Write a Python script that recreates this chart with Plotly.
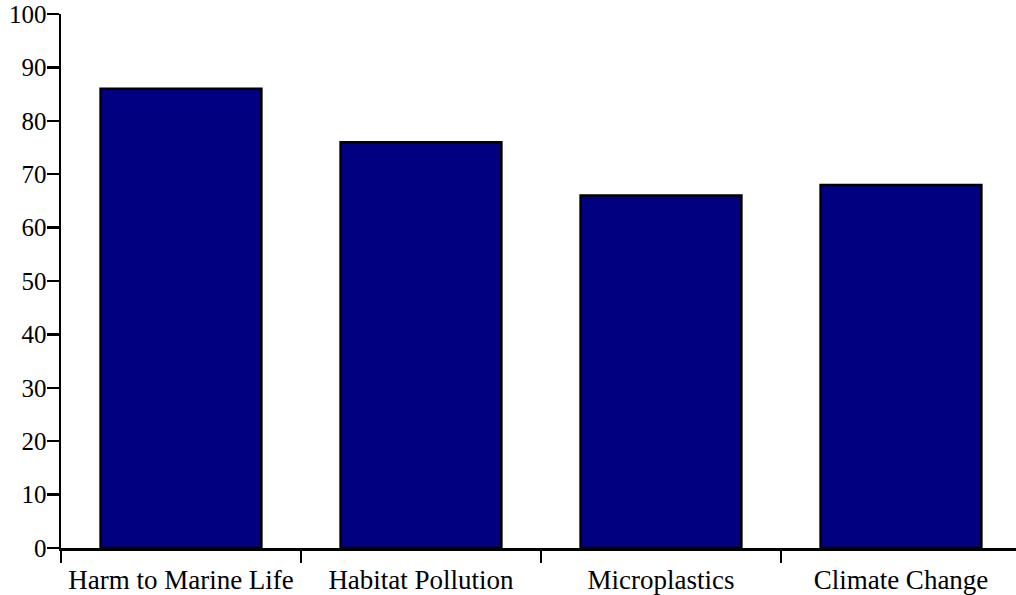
import plotly.graph_objects as go

categories = ["Harm to Marine Life", "Habitat Pollution", "Microplastics", "Climate Change"]
values = [86, 76, 66, 68]
y_ticks = list(range(0, 101, 10))

fig = go.Figure(go.Bar(
    x=categories, y=values, width=0.67,
    marker=dict(color="#000080", line=dict(color="black", width=2.5)),
    hoverinfo="skip",
))

fig.update_layout(
    width=1016, height=595,
    margin=dict(l=61, r=0, t=14, b=47),
    paper_bgcolor="white", plot_bgcolor="white",
    font=dict(family="Liberation Serif, Times New Roman, serif", size=24, color="black"),
    showlegend=False,
    bargap=0,
)
fig.update_xaxes(
    range=[-0.5, -0.5 + 955 / 240],
    automargin=False,
    showline=True, linecolor="black", linewidth=2.5,
    ticks="outside", tickson="boundaries", ticklen=12, tickwidth=2.5, tickcolor="black",
    ticklabelstandoff=6,
    showgrid=False, zeroline=False,
    tickfont=dict(size=27),
)
fig.update_yaxes(
    range=[0, 100], tickvals=y_ticks,
    automargin=False,
    showline=True, linecolor="black", linewidth=2.5,
    ticks="outside", ticklen=12, tickwidth=2.5, tickcolor="black",
    ticklabelstandoff=-5, ticklabeloverflow="allow",
    showgrid=False, zeroline=False,
    tickfont=dict(size=25),
)

fig.write_html(
    "out.html",
    config={"displayModeBar": False, "staticPlot": True},
    post_script="document.body.style.margin='0';document.body.style.overflow='hidden';",
)
